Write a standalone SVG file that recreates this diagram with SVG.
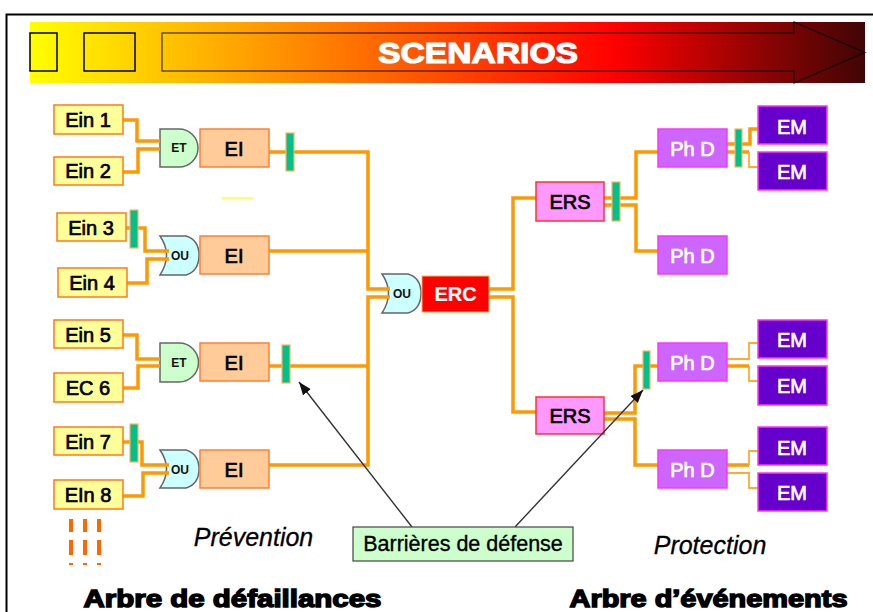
<svg xmlns="http://www.w3.org/2000/svg" width="873" height="612" viewBox="0 0 873 612">
<style>
text{font-family:"Liberation Sans",Arial,sans-serif;text-anchor:middle}
.lab{font-size:20px;fill:#000;stroke:#000;stroke-width:.7}
.wl{font-size:20px;fill:#fff;stroke:#fff;stroke-width:.7}
.in{fill:#ffff99;stroke:#ff7a1a;stroke-width:1.5}
.ei{fill:#ffcc99;stroke:#ff8033;stroke-width:1.5}
.ers{fill:#ff99ff;stroke:#ff3333;stroke-width:1.5}
.phd{fill:#cc66ff;stroke:#ff33ff;stroke-width:1.5}
.em{fill:#6600cc;stroke:#ff33ff;stroke-width:1.5}
.bar{fill:#00c08c;stroke:#ffb060;stroke-width:1.2}
.et{fill:#ccffcc;stroke:#666;stroke-width:1.5}
.ou{fill:#ccffff;stroke:#666;stroke-width:1.5}
.gt{font-size:12px;font-weight:bold;fill:#111}
.w{fill:none;stroke:#ff9900;stroke-width:3.500}
.wt{fill:none;stroke:#ffab33;stroke-width:1.8}
.it{font-size:25px;font-style:italic;fill:#000;stroke:#000;stroke-width:.3}
.big{font-size:24px;font-weight:bold;fill:#000;stroke:#000;stroke-width:1.4}
.ar{stroke:#333;stroke-width:1.4;fill:none}
.bs{fill:none;stroke:#000;stroke-width:1.5}
</style>
<defs>
<linearGradient id="g" x1="0" x2="1" y1="0" y2="0">
<stop offset="0" stop-color="#ffff00"/><stop offset=".7" stop-color="#ff0000"/><stop offset="1" stop-color="#400505"/>
</linearGradient>
<marker id="ah" markerUnits="userSpaceOnUse" markerWidth="14" markerHeight="12" refX="13" refY="5" orient="auto"><path d="M0,0L13,5L0,10Z" fill="#111"/></marker>
</defs>
<path d="M6.500,612V14.500H873" fill="none" stroke="#000" stroke-width="2"/>
<g id="banner">
<rect x="30" y="22" width="835" height="61" fill="url(#g)"/>
<rect class="bs" x="30" y="33" width="27" height="38"/>
<rect class="bs" x="84" y="33" width="51" height="38"/>
<path d="M162,33H794V22L865,52.500L794,83V71H162Z" fill="none" stroke="#000" stroke-opacity=".6" stroke-width="1.500"/>
<text x="478" y="63" font-size="29" font-weight="bold" fill="#fff" stroke="#fff" stroke-width="1.200" textLength="200" lengthAdjust="spacingAndGlyphs">SCENARIOS</text>
</g>
<g id="gate-et1"><path class="et" d="M160,129H179A19,19 0 0 1 179,167H160Z"/><text class="gt" x="179" y="152">ET</text></g>
<g id="gate-ou1"><path class="ou" d="M160,236H186Q199,240 199,255Q199,271 186,275H160Q173,255 160,236Z"/><text class="gt" x="180" y="260">OU</text></g>
<g id="gate-et2"><path class="et" d="M160,343H179A19,19 0 0 1 179,382H160Z"/><text class="gt" x="179" y="367">ET</text></g>
<g id="gate-ou2"><path class="ou" d="M160,450H186Q199,454 199,469Q199,484 186,488H160Q173,469 160,450Z"/><text class="gt" x="180" y="474">OU</text></g>
<g id="gate-ou3"><path class="ou" d="M382,274H408Q421,278 421,293Q421,309 408,313H382Q395,293 382,274Z"/><text class="gt" x="402" y="298">OU</text></g>
<g id="connectors">
<path class="w" d="M123,120H137V141H160M123,172H138V149H160"/>
<path class="w" d="M126,228H145V251H169M127,283H147V259H169"/>
<path class="w" d="M123,335H137V359H160M123,388H138V366H160"/>
<path class="w" d="M123,442H142V465H169M123,496H143V473H169"/>
<path class="w" d="M269,152H368V289H390M269,251H368M269,366H368M269,465H368V297H390"/>
<path class="w" d="M489,289H513V198H536M489,297H513V412H536"/>
<path class="w" d="M604,198H636V152H658M604,205H636V251H658"/>
<path class="w" d="M604,413H635V366H658M604,419H635V465H658"/>
<path class="w" d="M727,144H750V129H758M727,152H749"/>
<path class="wt" d="M749,152V167H758"/>
<path class="wt" d="M727,359H749V343H758M749,366V381H758"/>
<path class="w" d="M727,366H749"/>
<path class="w" d="M727,465H749"/>
<path class="wt" d="M749,465V451H758M727,473H749V488H758"/>
</g>
<rect x="222" y="197" width="31" height="2" fill="#ffff66"/>
<g id="ein1"><rect class="in" x="54" y="105" width="69" height="29"/><text class="lab" x="88" y="127">Ein 1</text></g>
<g id="ein2"><rect class="in" x="54" y="157" width="69" height="28"/><text class="lab" x="88" y="178">Ein 2</text></g>
<g id="ein3"><rect class="in" x="57" y="213" width="69" height="28"/><text class="lab" x="91" y="235">Ein 3</text></g>
<g id="ein4"><rect class="in" x="58" y="268" width="69" height="29"/><text class="lab" x="92" y="290">Ein 4</text></g>
<g id="ein5"><rect class="in" x="54" y="320" width="69" height="28"/><text class="lab" x="88" y="342">Ein 5</text></g>
<g id="ec6"><rect class="in" x="54" y="373" width="69" height="29"/><text class="lab" x="88" y="395">EC 6</text></g>
<g id="ein7"><rect class="in" x="54" y="427" width="69" height="28"/><text class="lab" x="88" y="449">Ein 7</text></g>
<g id="ein8"><rect class="in" x="54" y="480" width="69" height="29"/><text class="lab" x="88" y="502">EIn 8</text></g>
<g id="ei1"><rect class="ei" x="200" y="129" width="69" height="38"/><text class="lab" x="234" y="156">EI</text></g>
<g id="ei2"><rect class="ei" x="200" y="236" width="69" height="38"/><text class="lab" x="234" y="263">EI</text></g>
<g id="ei3"><rect class="ei" x="200" y="343" width="69" height="38"/><text class="lab" x="234" y="370">EI</text></g>
<g id="ei4"><rect class="ei" x="200" y="450" width="69" height="38"/><text class="lab" x="234" y="477">EI</text></g>
<g id="barrier1"><rect class="bar" x="286" y="133" width="8" height="38"/></g>
<g id="barrier2"><rect class="bar" x="130" y="210" width="8" height="38"/></g>
<g id="barrier3"><rect class="bar" x="282" y="345" width="8" height="38"/></g>
<g id="barrier4"><rect class="bar" x="130" y="424" width="8" height="38"/></g>
<g id="barrier5"><rect class="bar" x="612" y="182" width="8" height="39"/></g>
<g id="barrier6"><rect class="bar" x="735" y="129" width="7" height="38"/></g>
<g id="barrier7"><rect class="bar" x="643" y="351" width="7" height="38"/></g>
<g id="erc"><rect x="422" y="276" width="67" height="36" fill="#ff0000" stroke="#ffb347"/><text class="wl" x="455.500" y="301" font-weight="bold" style="stroke-width:.2">ERC</text></g>
<g id="ers1"><rect class="ers" x="536" y="182" width="68" height="39"/><text class="lab" x="570" y="209">ERS</text></g>
<g id="ers2"><rect class="ers" x="536" y="397" width="68" height="37"/><text class="lab" x="570" y="423">ERS</text></g>
<g id="phd1"><rect class="phd" x="658" y="129" width="69" height="38"/><text class="wl" x="692.500" y="156">Ph D</text></g>
<g id="phd2"><rect class="phd" x="658" y="236" width="69" height="38"/><text class="wl" x="692.500" y="263">Ph D</text></g>
<g id="phd3"><rect class="phd" x="658" y="343" width="69" height="38"/><text class="wl" x="692.500" y="370">Ph D</text></g>
<g id="phd4"><rect class="phd" x="658" y="450" width="69" height="38"/><text class="wl" x="692.500" y="477">Ph D</text></g>
<g id="em1"><rect class="em" x="758" y="106" width="69" height="38"/><text class="wl" x="792" y="134">EM</text></g>
<g id="em2"><rect class="em" x="758" y="152" width="69" height="38"/><text class="wl" x="792" y="179">EM</text></g>
<g id="em3"><rect class="em" x="758" y="320" width="69" height="38"/><text class="wl" x="792" y="347">EM</text></g>
<g id="em4"><rect class="em" x="758" y="366" width="69" height="39"/><text class="wl" x="792" y="393">EM</text></g>
<g id="em5"><rect class="em" x="758" y="427" width="69" height="38"/><text class="wl" x="792" y="455">EM</text></g>
<g id="em6"><rect class="em" x="758" y="473" width="69" height="38"/><text class="wl" x="792" y="500">EM</text></g>
<g id="dashes" fill="#ff6600">
<rect x="69" y="519" width="4" height="13"/><rect x="83" y="519" width="4" height="13"/><rect x="97" y="519" width="4" height="13"/>
<rect x="69" y="540" width="4" height="15"/><rect x="83" y="540" width="4" height="15"/><rect x="97" y="540" width="4" height="15"/>
<rect x="69" y="563" width="4" height="2"/><rect x="83" y="563" width="4" height="2"/><rect x="97" y="563" width="4" height="2"/>
</g>
<g id="callouts">
<path class="ar" d="M412,527L299,382" marker-end="url(#ah)"/>
<path class="ar" d="M515,527L643,390" marker-end="url(#ah)"/>
</g>
<g id="barrieres"><rect x="353" y="527" width="220" height="34" fill="#ccffcc" stroke="#444" stroke-width="1.200"/><text x="463" y="551" font-size="21.500" fill="#000" stroke="#000" stroke-width=".35">Barrières de défense</text></g>
<text class="it" x="253.500" y="546">Prévention</text>
<text class="it" x="710" y="554">Protection</text>
<text class="big" x="232.500" y="606.500" textLength="298" lengthAdjust="spacingAndGlyphs">Arbre de défaillances</text>
<text class="big" x="708.500" y="606.500" textLength="278" lengthAdjust="spacingAndGlyphs">Arbre d’événements</text>
</svg>
